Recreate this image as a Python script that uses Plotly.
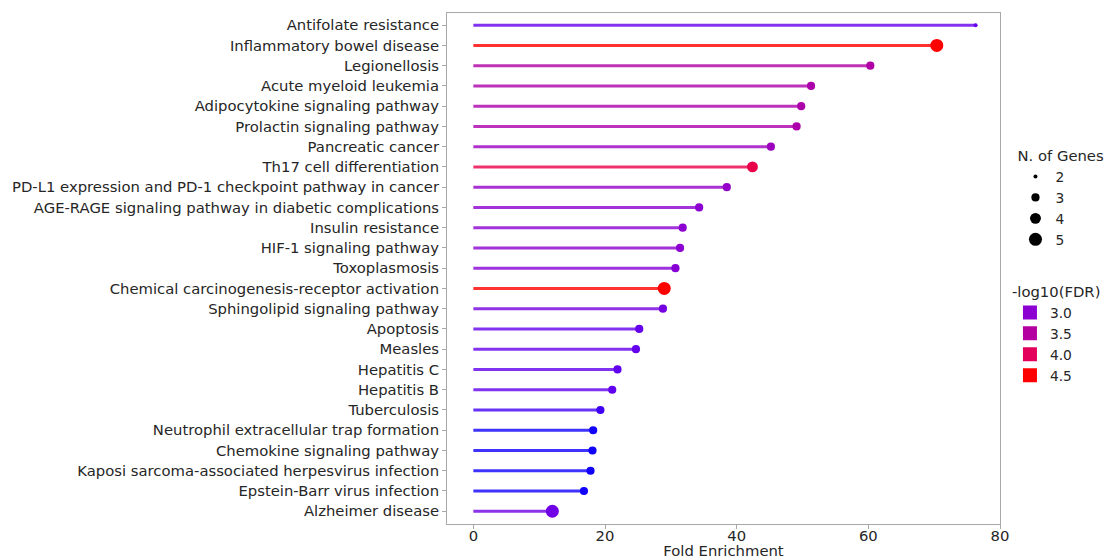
import plotly.graph_objects as go
from plotly.colors import sample_colorscale
import math

pathways = [
    "Antifolate resistance",
    "Inflammatory bowel disease",
    "Legionellosis",
    "Acute myeloid leukemia",
    "Adipocytokine signaling pathway",
    "Prolactin signaling pathway",
    "Pancreatic cancer",
    "Th17 cell differentiation",
    "PD-L1 expression and PD-1 checkpoint pathway in cancer",
    "AGE-RAGE signaling pathway in diabetic complications",
    "Insulin resistance",
    "HIF-1 signaling pathway",
    "Toxoplasmosis",
    "Chemical carcinogenesis-receptor activation",
    "Sphingolipid signaling pathway",
    "Apoptosis",
    "Measles",
    "Hepatitis C",
    "Hepatitis B",
    "Tuberculosis",
    "Neutrophil extracellular trap formation",
    "Chemokine signaling pathway",
    "Kaposi sarcoma-associated herpesvirus infection",
    "Epstein-Barr virus infection",
    "Alzheimer disease",
]
fold_enrichment = [76.3, 70.4, 60.3, 51.3, 49.8, 49.1, 45.2, 42.4, 38.5, 34.3,
                   31.8, 31.4, 30.7, 29.0, 28.8, 25.2, 24.7, 21.9, 21.1, 19.3,
                   18.2, 18.1, 17.8, 16.8, 12.0]
neg_log10_fdr = [2.65, 4.5, 3.45, 3.4, 3.4, 3.4, 3.2, 4.1, 3.1, 3.0,
                 3.0, 3.0, 2.95, 4.5, 2.8, 2.65, 2.65, 2.62, 2.62, 2.5,
                 2.35, 2.35, 2.35, 2.35, 2.75]
n_genes = [2, 5, 3, 3, 3, 3, 3, 4, 3, 3,
           3, 3, 3, 5, 3, 3, 3, 3, 3, 3,
           3, 3, 3, 3, 5]
size_legend = [2, 3, 4, 5]
fdr_legend = [3.0, 3.5, 4.0, 4.5]

# style
FDR_MIN, FDR_MAX = 2.3, 4.5
stops = [(2.3, "rgb(0,0,255)"), (2.6, "rgb(95,0,240)"), (3.0, "rgb(140,0,210)"),
         (3.5, "rgb(180,0,160)"), (4.0, "rgb(227,0,92)"), (4.5, "rgb(255,0,0)")]
colorscale = [[(v - FDR_MIN) / (FDR_MAX - FDR_MIN), c] for v, c in stops]


def fdr_color(v):
    t = min(max((v - FDR_MIN) / (FDR_MAX - FDR_MIN), 0), 1)
    return sample_colorscale(colorscale, [t])[0]


def gene_size(n):
    return math.sqrt(16 + 51 * (n - 2))


FONT = "DejaVu Sans"
TXT = "#262626"
FS = 14.8
LFS = 13.8

fig = go.Figure()
for name, fe, f in zip(pathways, fold_enrichment, neg_log10_fdr):
    fig.add_trace(go.Scatter(
        x=[0, fe], y=[name, name], mode="lines",
        line=dict(color=fdr_color(f), width=3), opacity=0.8,
        showlegend=False, hoverinfo="skip"))

fig.add_trace(go.Scatter(
    x=fold_enrichment, y=pathways, mode="markers",
    marker=dict(color=[fdr_color(f) for f in neg_log10_fdr], opacity=1,
                size=[gene_size(n) for n in n_genes], line=dict(width=0)),
    showlegend=False))

for n in size_legend:
    fig.add_trace(go.Scatter(
        x=[None], y=[None], mode="markers", name=str(n),
        marker=dict(color="black", size=gene_size(n), opacity=1), legend="legend"))

for f in fdr_legend:
    fig.add_trace(go.Scatter(
        x=[None], y=[None], mode="markers", name=f"{f:.1f}",
        marker=dict(color=fdr_color(f), size=14, symbol="square", opacity=1),
        legend="legend2"))

fig.update_layout(
    width=1106, height=551,
    margin=dict(l=439, r=114, t=5, b=35, autoexpand=False),
    paper_bgcolor="white", plot_bgcolor="white",
    font=dict(family=FONT, size=FS, color=TXT),
    legend=dict(title=dict(text="N. of Genes", font=dict(size=FS)),
                x=1.028, y=0.748, xanchor="left", yanchor="top",
                itemsizing="trace", font=dict(size=LFS),
                bgcolor="rgba(0,0,0,0)"),
    legend2=dict(title=dict(text="-log10(FDR)", font=dict(size=FS)),
                 x=1.018, y=0.482, xanchor="left", yanchor="top",
                 itemsizing="trace", font=dict(size=LFS),
                 bgcolor="rgba(0,0,0,0)"),
)
fig.update_xaxes(
    range=[-4, 80], dtick=20, tick0=0, showgrid=False, zeroline=False,
    showline=True, linecolor="#a8a8a8", linewidth=1, mirror=True,
    ticks="outside", ticklen=4, tickcolor="#a8a8a8", automargin=False,
    ticklabelstandoff=-6,
    title=dict(text="Fold Enrichment", standoff=2, font=dict(size=FS)))
fig.update_yaxes(
    type="category", categoryorder="array", categoryarray=pathways[::-1],
    range=[-0.63, 24.6], showgrid=False, zeroline=False,
    showline=True, linecolor="#a8a8a8", linewidth=1, mirror=True,
    ticks="outside", ticklen=4, tickcolor="#a8a8a8", automargin=False)

fig.write_html("out.html")
